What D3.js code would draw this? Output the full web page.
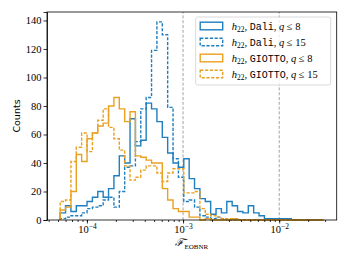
<!DOCTYPE html>
<html>
<head>
<meta charset="utf-8">
<script src="https://cdn.jsdelivr.net/npm/d3@7"></script>
<style>
  body { margin: 0; background: #fff; }
  text { font-family: "Liberation Serif", "DejaVu Serif", serif; }
</style>
</head>
<body>
<div id="chart"></div>
<script>
// log10 bin edges shared by all four histograms
const binLo = -4.278, binHi = -1.539, nBins = 49;

// counts per bin
const dali8 = [5, 10, 6, 10, 10, 13, 16, 20, 16, 22, 31, 45, 40, 71, 52, 56, 82, 78, 69, 58,
  47, 40, 37, 43, 29, 22, 15, 13, 4, 8, 5, 13, 10, 6, 5, 10, 5, 3, 1, 1,
  1, 1, 1, 0, 0, 0, 0, 0, 0];
const dali15 = [1, 2, 3, 3, 5, 8, 9, 10, 14, 16, 9, 20, 37, 38, 55, 78, 86, 119, 139, 130,
  79, 43, 30, 13, 14, 9, 3, 2, 1, 2, 1, 0, 0, 0, 0, 0, 0, 0, 0, 0,
  0, 0, 0, 0, 0, 0, 0, 0, 0];
const giotto8 = [7, 9, 20, 46, 41, 57, 61, 66, 68, 80, 86, 78, 69, 76, 45, 44, 42, 40, 40, 22,
  14, 8, 6, 6, 2, 2, 0, 1, 0, 0, 0, 0, 1, 0, 0, 0, 0, 0, 0, 0,
  0, 0, 0, 0, 0, 0, 0, 0, 0];
const giotto15 = [13, 14, 41, 51, 61, 48, 61, 70, 78, 65, 57, 49, 38, 28, 30, 35, 38, 38, 33, 27,
  33, 36, 36, 19, 19, 20, 8, 4, 3, 2, 1, 1, 0, 0, 0, 0, 0, 0, 0, 0,
  0, 0, 0, 0, 0, 0, 0, 0, 0];

const yTicks = [0, 20, 40, 60, 80, 100, 120, 140];
const xTickExp = [-4, -3, -2];
const refLines = [1e-3, 1e-2];

const seriesNames = ["Dali, q8", "Dali, q15", "GIOTTO, q8", "GIOTTO, q15"];
const seriesCode = ["Dali", "Dali", "GIOTTO", "GIOTTO"];
const seriesQ = ["8", "15", "8", "15"];
const seriesData = [dali8, dali15, giotto8, giotto15];
const seriesColor = ["#1f7fc0", "#1f7fc0", "#eaa020", "#eaa020"];
const seriesDash = [null, "3.2,1.6", null, "3.2,1.6"];

const width = 349, height = 262;
const margin = {left: 47, right: 12.3, top: 12, bottom: 42};

const svg = d3.select("#chart").append("svg")
  .attr("width", width).attr("height", height);

const edges = d3.range(nBins + 1).map(i => Math.pow(10, binLo + i * (binHi - binLo) / nBins));
const pad = 0.05 * (binHi - binLo);
const x = d3.scaleLog()
  .domain([Math.pow(10, binLo - pad), Math.pow(10, binHi + pad)])
  .range([margin.left, width - margin.right]);
const yMax = d3.max(seriesData, s => d3.max(s)) * 1.05;
const y = d3.scaleLinear().domain([0, yMax]).range([height - margin.bottom, margin.top]);

// reference lines
svg.selectAll(".ref").data(refLines).enter().append("line")
  .attr("x1", d => x(d)).attr("x2", d => x(d))
  .attr("y1", y(0)).attr("y2", y(yMax))
  .attr("stroke", "#8a8a8a").attr("stroke-width", 0.8)
  .attr("stroke-dasharray", "3,1.8");

// step histograms
const line = d3.line().x(d => x(d[0])).y(d => y(d[1]));
seriesData.forEach((counts, k) => {
  const pts = [[edges[0], 0]];
  counts.forEach((c, i) => { pts.push([edges[i], c]); pts.push([edges[i + 1], c]); });
  pts.push([edges[nBins], 0]);
  svg.append("path")
    .attr("d", line(pts))
    .attr("fill", "none")
    .attr("stroke", seriesColor[k])
    .attr("stroke-width", 1.4)
    .attr("stroke-dasharray", seriesDash[k])
    .attr("stroke-linejoin", "miter");
});

// axes
const yAxis = d3.axisLeft(y).tickValues(yTicks).tickSize(3.5).tickPadding(2);
const gy = svg.append("g").attr("transform", `translate(${margin.left},0)`).call(yAxis);
gy.selectAll("text").attr("font-size", 10.5).attr("font-family", "Liberation Serif").attr("fill", "#000");

const xMinor = [];
for (let e = -5; e <= -1; e++) for (let m = 1; m <= 9; m++) {
  const v = m * Math.pow(10, e);
  if (v >= x.domain()[0] && v <= x.domain()[1]) xMinor.push(v);
}
const gxm = svg.append("g").attr("transform", `translate(0,${y(0)})`)
  .call(d3.axisBottom(x).tickValues(xMinor).tickSize(2).tickFormat(""));
gxm.select(".domain").remove();

const gx = svg.append("g").attr("transform", `translate(0,${y(0)})`)
  .call(d3.axisBottom(x).tickValues(xTickExp.map(e => Math.pow(10, e))).tickSize(3.5).tickFormat(""));
gx.select(".domain").remove();
gx.selectAll(".tick").each(function(d, i) {
  const t = d3.select(this).append("text").attr("y", 13).attr("fill", "#000")
    .attr("text-anchor", "middle").attr("font-size", 10.5);
  t.append("tspan").text("10");
  t.append("tspan").attr("dy", -4.5).attr("font-size", 7.5).text("\u2212" + String(-xTickExp[i]));
});

svg.selectAll(".domain").attr("stroke", "#000").attr("stroke-width", 0.8);
svg.selectAll(".tick line").attr("stroke", "#000").attr("stroke-width", 0.8);

// frame
svg.append("rect")
  .attr("x", margin.left).attr("y", margin.top)
  .attr("width", width - margin.left - margin.right)
  .attr("height", height - margin.top - margin.bottom)
  .attr("fill", "none").attr("stroke", "#000").attr("stroke-width", 0.8);

// axis labels
svg.append("text")
  .attr("transform", `translate(20,${(margin.top + height - margin.bottom) / 2}) rotate(-90)`)
  .attr("text-anchor", "middle").attr("font-size", 9.5)
  .style("font-family", "'DejaVu Sans', sans-serif")
  .text("Counts");

const xl = svg.append("text")
  .attr("x", (margin.left + width - margin.right) / 2).attr("y", 246)
  .attr("text-anchor", "middle").attr("font-size", 10.5);
xl.append("tspan").style("font-family", "'DejaVu Serif'").attr("font-style", "italic").text("\u2131\u0304");
xl.append("tspan").attr("dy", 2.5).attr("font-size", 7).text("EOBNR");

// legend
const lg = svg.append("g").attr("transform", "translate(195.7,17)");
lg.append("rect").attr("width", 135).attr("height", 68).attr("rx", 2)
  .attr("fill", "#fff").attr("fill-opacity", 0.8)
  .attr("stroke", "#d0d0d0").attr("stroke-width", 0.8);
seriesNames.forEach((n, k) => {
  const row = lg.append("g").attr("transform", `translate(0,${9 + k * 16})`);
  row.append("rect").attr("x", 4.5).attr("y", -3.8).attr("width", 22.5).attr("height", 7.6)
    .attr("fill", "none").attr("stroke", seriesColor[k]).attr("stroke-width", 1.4)
    .attr("stroke-dasharray", seriesDash[k]);
  const t = row.append("text").attr("x", 36).attr("y", 3.8).attr("font-size", 10.5);
  t.append("tspan").attr("font-style", "italic").text("h");
  t.append("tspan").attr("dy", 2.5).attr("font-size", 7.5).text("22");
  t.append("tspan").attr("dy", -2.5).text(", ");
  t.append("tspan").style("font-family", "'Liberation Mono', monospace").attr("font-size", 10).text(seriesCode[k]);
  t.append("tspan").text(", ");
  t.append("tspan").attr("font-style", "italic").text("q");
  t.append("tspan").text(" \u2264 " + seriesQ[k]);
});
</script>
</body>
</html>
